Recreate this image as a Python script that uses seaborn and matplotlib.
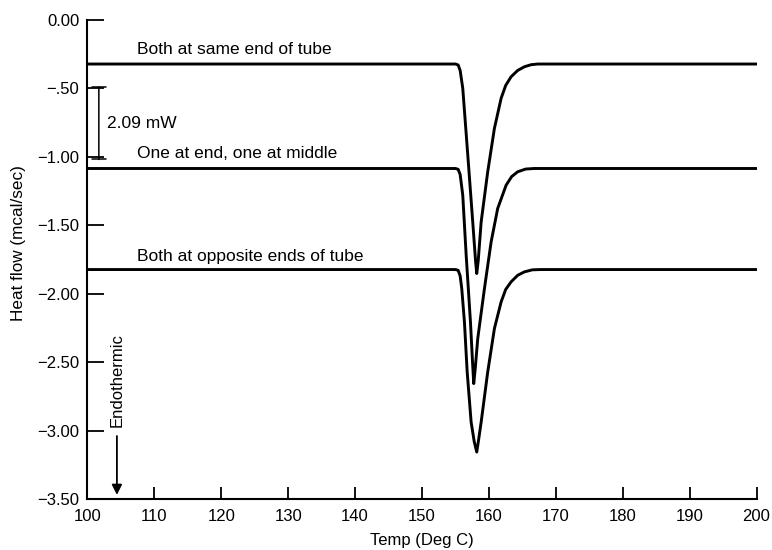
import matplotlib
matplotlib.use("Agg")
import matplotlib.pyplot as plt
import seaborn as sns
import pandas as pd

# ---- data ----
temp_same = [100, 155.0, 155.4, 155.7, 156.09, 156.84, 157.58, 158.0, 158.18, 158.4, 158.84,
             159.82, 160.82, 161.82, 162.5, 163.31, 164.3, 165.3, 166.3, 167.3, 200]
flow_same = [-0.323, -0.323, -0.33, -0.37, -0.50, -0.988, -1.476, -1.76, -1.853, -1.76, -1.476,
             -1.110, -0.793, -0.574, -0.48, -0.416, -0.37, -0.343, -0.328, -0.323, -0.323]

temp_mid = [100, 155.0, 155.4, 155.7, 156.09, 156.6, 157.24, 157.55, 157.73, 157.95, 158.33,
            159.33, 160.33, 161.31, 162.57, 163.4, 164.3, 165.5, 166.8, 200]
flow_mid = [-1.086, -1.086, -1.092, -1.13, -1.281, -1.719, -2.207, -2.50, -2.657, -2.55, -2.328,
            -1.963, -1.622, -1.378, -1.208, -1.145, -1.110, -1.090, -1.086, -1.086]

temp_opp = [100, 155.0, 155.4, 155.7, 155.94, 156.34, 156.75, 157.34, 157.8, 158.18, 158.45,
            158.84, 159.82, 160.82, 161.82, 162.5, 163.31, 164.3, 165.3, 166.5, 167.8, 200]
flow_opp = [-1.824, -1.824, -1.83, -1.87, -1.963, -2.207, -2.572, -2.938, -3.08, -3.157, -3.07,
            -2.938, -2.572, -2.255, -2.061, -1.97, -1.914, -1.866, -1.841, -1.826, -1.824, -1.824]

series_names = ["Both at same end of tube", "One at end, one at middle", "Both at opposite ends of tube"]
label_x = [107.4, 107.4, 107.4]
label_y = [-0.216, -0.98, -1.727]

x_ticks = [100, 110, 120, 130, 140, 150, 160, 170, 180, 190, 200]
y_ticks = [0.0, -0.5, -1.0, -1.5, -2.0, -2.5, -3.0, -3.5]
y_tick_labels = ["0.00", "\u2212.50", "\u22121.00", "\u22121.50", "\u22122.00", "\u22122.50", "\u22123.00", "\u22123.50"]

scale_x = 101.7
scale_top = -0.489
scale_bottom = -1.02
scale_label = "2.09 mW"

endo_x = 104.4
endo_arrow_top = -3.04
endo_arrow_bottom = -3.47

# ---- plotting ----
sns.set_theme(style="ticks")
plt.rcParams['font.family'] = ['Liberation Sans', 'DejaVu Sans']
plt.rcParams['axes.unicode_minus'] = True
plt.rcParams['text.color'] = 'black'
plt.rcParams['axes.labelcolor'] = 'black'

fig = plt.figure(figsize=(7.72, 5.5), dpi=100)
ax = fig.add_axes([0.1133, 0.0927, 0.8667, 0.8713])

for t, f in [(temp_same, flow_same), (temp_mid, flow_mid), (temp_opp, flow_opp)]:
    df = pd.DataFrame({"Temp": t, "Flow": f})
    sns.lineplot(data=df, x="Temp", y="Flow", ax=ax, color="black", linewidth=2.1,
                 estimator=None, sort=False)

for name, lx, ly in zip(series_names, label_x, label_y):
    ax.text(lx, ly, name, fontsize=12.5, ha="left", va="center", color="black")

ax.set_xlim(100, 200)
ax.set_ylim(-3.5, 0)
ax.set_xticks(x_ticks)
ax.set_yticks(y_ticks)
ax.set_yticklabels(y_tick_labels)
ax.tick_params(axis="x", direction="in", length=9, width=1.3, labelsize=12, pad=7, colors="black")
ax.tick_params(axis="y", direction="in", length=12, width=1.3, labelsize=12, pad=6, colors="black")
sns.despine(ax=ax)
for s in ["left", "bottom"]:
    ax.spines[s].set_linewidth(1.5)
    ax.spines[s].set_color("black")

ax.set_xlabel("Temp (Deg C)", fontsize=12, labelpad=7, color="black")
ax.set_ylabel("Heat flow (mcal/sec)", fontsize=12.3, color="black")
ax.yaxis.set_label_coords(-0.092, 0.534)

# scale bar
ax.annotate("", xy=(scale_x, scale_bottom), xytext=(scale_x, scale_top),
            arrowprops=dict(arrowstyle="|-|, widthA=0.4, widthB=0.4", color="black", lw=1.1,
                            shrinkA=0, shrinkB=0))
ax.text(scale_x + 1.25, (scale_top + scale_bottom) / 2, scale_label, fontsize=12.5,
        ha="left", va="center", color="black")

# endothermic arrow
ax.annotate("", xy=(endo_x, endo_arrow_bottom), xytext=(endo_x, endo_arrow_top),
            arrowprops=dict(arrowstyle="-|>", color="black", lw=1.3, mutation_scale=15,
                            shrinkA=0, shrinkB=0))
ax.text(endo_x, -2.63, "Endothermic", rotation=90, fontsize=12, ha="center", va="center",
        color="black")

ax.grid(False)
fig.savefig("out.png", dpi=100)
